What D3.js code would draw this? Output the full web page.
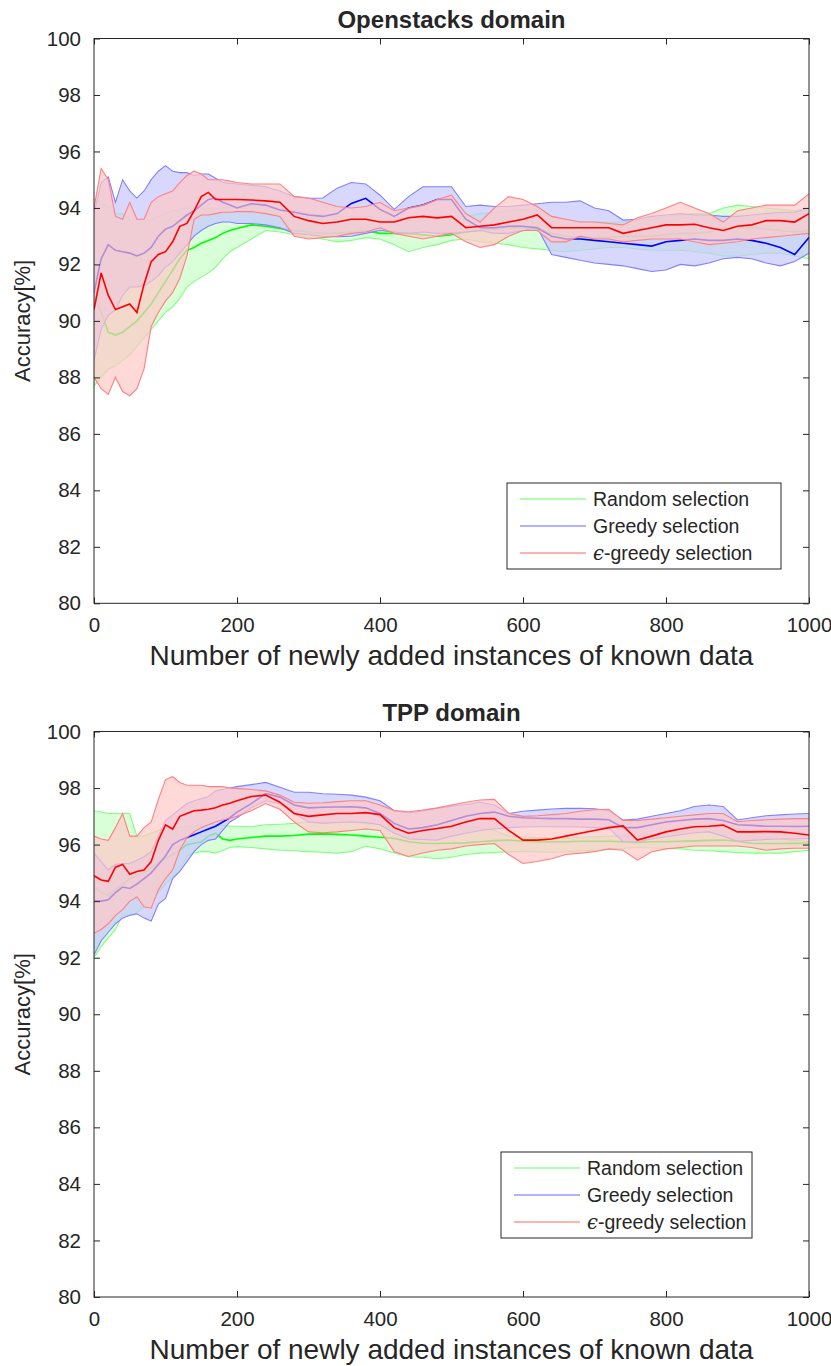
<!DOCTYPE html>
<html>
<head>
<meta charset="utf-8">
<script src="https://cdn.jsdelivr.net/npm/d3@7"></script>
<style>
  body { margin: 0; background: #fff; }
  text { font-family: "Liberation Sans", Arial, Helvetica, sans-serif; fill: #262626; }
</style>
</head>
<body>
<svg id="chart" width="831" height="1366"></svg>
<script>
// Number of newly added instances (sample positions along the x axis)
const instances = [0,10,20,30,40,50,60,70,80,90,100,110,120,130,140,150,160,170,180,190,
  200,220,240,260,280,300,320,340,360,380,400,420,440,460,480,500,520,540,560,580,
  600,620,640,660,680,700,720,740,760,780,800,820,840,860,880,900,920,940,960,980,1000];

const xTicks = [0, 200, 400, 600, 800, 1000];
const yTicks = [80, 82, 84, 86, 88, 90, 92, 94, 96, 98, 100];
const seriesNames = ["Random selection", "Greedy selection", "-greedy selection"];

// ---- Openstacks domain: accuracy [%] (mean, upper and lower bound) ----
const osRandomMean = [90.9,90.3,89.6,89.5,89.6,89.8,90.0,90.3,90.6,91.0,91.4,91.8,92.2,92.5,92.6,92.75,92.85,92.95,93.1,93.2,
  93.27,93.4,93.35,93.27,93.2,93.15,93.1,93.1,93.15,93.2,
  93.1,93.1,93.1,93.05,93.0,93.05,93.15,93.2,93.25,93.3,
  93.3,93.25,93.1,93.0,92.95,92.95,92.95,93.0,93.0,93.0,
  93.05,93.1,93.1,93.15,93.3,93.3,93.3,93.25,93.2,93.15,
  93.2];
const osRandomUpper = [94.3,94.2,94.0,93.8,93.8,93.6,93.5,93.5,93.6,93.7,93.8,93.9,93.95,94.0,94.0,94.0,94.0,94.0,94.0,94.05,
  94.05,94.1,94.05,94.0,93.9,93.8,93.75,93.7,93.7,93.7,
  93.65,93.6,93.55,93.55,93.6,93.65,93.7,93.8,93.85,93.9,
  93.95,93.9,93.7,93.6,93.5,93.5,93.5,93.5,93.55,93.6,
  93.7,93.75,93.8,93.8,94.0,94.1,94.05,94.0,93.95,93.9,
  94.0];
const osRandomLower = [87.7,88.0,88.3,88.4,88.6,88.8,89.1,89.4,89.7,90.0,90.3,90.5,90.8,91.2,91.4,91.55,91.7,91.9,92.2,92.45,
  92.6,92.9,93.2,93.15,93.05,92.95,92.9,92.8,92.85,92.95,
  92.9,92.7,92.45,92.6,92.7,92.85,92.9,92.8,92.75,92.7,
  92.6,92.55,92.5,92.45,92.5,92.55,92.6,92.6,92.55,92.5,
  92.5,92.5,92.45,92.4,92.3,92.3,92.35,92.4,92.4,92.3,
  92.2];

const osGreedyMean = [91.0,92.2,92.7,92.5,92.45,92.4,92.3,92.4,92.6,93.0,93.25,93.35,93.55,93.75,93.9,94.1,94.3,94.35,94.2,94.1,
  94.0,94.15,94.1,93.93,93.85,93.75,93.7,93.8,94.16,94.34,
  93.95,93.7,94.0,94.1,94.3,94.3,93.6,93.3,93.3,93.35,
  93.35,93.3,93.0,92.9,92.9,92.85,92.8,92.75,92.7,92.65,
  92.8,92.85,92.9,92.85,92.85,92.9,92.85,92.75,92.6,92.35,
  92.95];
const osGreedyUpper = [93.8,94.9,95.1,94.2,95.0,94.6,94.35,94.6,95.0,95.3,95.5,95.3,95.25,95.25,95.15,95.2,95.2,95.05,94.9,94.87,
  94.85,94.8,94.75,94.6,94.4,94.34,94.35,94.7,94.9,94.85,
  94.45,93.95,94.4,94.75,94.75,94.75,94.05,94.1,94.05,94.05,
  94.1,94.15,94.2,94.2,94.25,94.0,93.9,93.57,93.6,93.7,
  93.75,93.8,93.75,93.75,93.7,93.7,93.75,93.8,93.85,93.85,
  94.0];
const osGreedyLower = [88.6,89.7,90.2,90.4,90.9,91.2,91.2,91.25,91.4,91.6,91.9,92.1,92.4,92.7,93.0,93.2,93.35,93.45,93.5,93.5,
  93.45,93.45,93.4,93.3,93.1,93.05,93.0,92.98,93.0,93.1,
  93.2,93.15,93.1,93.15,93.1,93.1,93.15,93.2,93.1,93.1,
  93.2,93.3,92.35,92.25,92.15,92.05,92.0,91.95,91.85,91.75,
  91.8,92.0,91.95,92.05,92.2,92.25,92.2,92.05,91.95,92.1,
  92.4];

const osEpsMean = [90.4,91.7,90.9,90.4,90.5,90.6,90.3,91.3,92.1,92.35,92.45,92.8,93.35,93.45,93.9,94.4,94.55,94.3,94.3,94.3,
  94.3,94.28,94.25,94.2,93.7,93.55,93.45,93.5,93.6,93.6,
  93.5,93.5,93.65,93.7,93.65,93.7,93.3,93.35,93.4,93.5,
  93.6,93.75,93.3,93.3,93.3,93.3,93.3,93.1,93.2,93.3,
  93.4,93.4,93.42,93.3,93.2,93.35,93.4,93.55,93.55,93.5,
  93.8];
const osEpsUpper = [94.0,95.4,95.0,93.7,93.6,94.2,93.6,93.6,94.2,94.4,94.5,94.6,94.9,95.15,95.3,95.2,95.0,95.0,95.0,94.95,
  94.9,94.85,94.85,94.85,94.4,94.35,94.2,94.05,94.0,94.05,
  94.2,93.9,94.0,94.1,94.3,94.45,93.8,93.5,94.0,94.4,
  94.3,94.05,93.7,93.6,93.5,93.5,93.45,93.4,93.65,93.8,
  94.0,94.2,94.0,93.8,93.5,93.9,94.0,94.1,94.1,94.1,
  94.5];
const osEpsLower = [88.0,87.6,87.4,88.0,87.5,87.35,87.6,88.3,89.8,90.3,90.7,91.0,91.5,92.3,93.6,93.75,93.75,93.8,93.85,93.85,
  93.87,93.87,93.8,93.7,93.0,92.9,92.95,93.0,93.1,93.15,
  93.3,93.1,93.0,92.9,93.0,93.1,92.8,92.6,92.7,93.0,
  93.2,93.2,92.8,92.8,93.0,92.9,92.9,92.8,92.85,92.9,
  92.9,92.9,92.8,92.7,92.75,92.8,92.9,92.95,93.0,93.05,
  93.1];

// ---- TPP domain: accuracy [%] (mean, upper and lower bound) ----
const tppRandomMean = [94.5,94.3,94.2,94.4,94.6,94.8,94.9,95.0,95.2,95.35,95.5,95.65,95.8,96.0,96.05,96.1,96.3,96.4,96.2,96.15,
  96.2,96.25,96.3,96.3,96.32,96.37,96.38,96.36,96.34,96.3,
  96.26,96.22,96.1,96.05,96.04,96.05,96.06,96.1,96.14,96.16,
  96.12,96.1,96.1,96.1,96.12,96.12,96.12,96.1,96.08,96.1,
  96.1,96.12,96.13,96.15,96.16,96.12,96.05,96.04,96.04,96.05,
  96.04];
const tppRandomUpper = [97.2,97.15,97.1,97.1,97.1,97.1,96.3,96.3,96.4,96.5,96.55,96.6,96.6,96.65,96.65,96.7,96.7,96.7,96.68,96.66,
  96.65,96.63,96.7,96.72,96.75,96.8,96.8,96.8,96.81,96.75,
  96.7,96.55,96.46,96.5,96.55,96.6,96.63,96.6,96.5,96.3,
  96.28,96.25,96.22,96.22,96.25,96.28,96.3,96.3,96.3,96.35,
  96.4,96.45,96.55,96.6,96.63,96.45,96.3,96.25,96.2,96.15,
  96.1];
const tppRandomLower = [92.0,92.4,92.7,93.0,93.5,93.5,93.6,93.8,94.0,94.3,94.6,94.85,95.1,95.6,95.7,95.75,95.75,95.7,95.8,95.9,
  95.93,95.9,95.85,95.8,95.78,95.75,95.73,95.7,95.75,95.95,
  95.85,95.7,95.57,95.55,95.5,95.55,95.65,95.7,95.72,95.75,
  95.75,95.74,95.73,95.74,95.78,95.8,95.83,95.86,95.9,95.88,
  95.86,95.85,95.8,95.78,95.75,95.72,95.7,95.7,95.7,95.75,
  95.8];

const tppGreedyMean = [94.0,94.0,94.05,94.3,94.5,94.45,94.6,94.8,95.0,95.3,95.6,96.0,96.15,96.25,96.35,96.45,96.55,96.65,96.8,96.95,
  97.15,97.45,97.8,97.68,97.4,97.3,97.32,97.33,97.34,97.3,
  97.1,96.75,96.55,96.6,96.7,96.85,97.0,97.1,97.15,97.0,
  96.95,96.93,96.92,96.92,96.9,96.9,96.88,96.6,96.6,96.7,
  96.8,96.85,96.9,96.92,96.85,96.7,96.68,96.65,96.65,96.64,
  96.65];
const tppGreedyUpper = [95.7,95.4,95.1,95.3,95.33,95.33,95.45,95.57,95.75,96.3,96.85,97.05,97.25,97.45,97.55,97.62,97.7,97.9,97.95,98.0,
  98.05,98.12,98.2,98.03,97.85,97.85,97.8,97.78,97.75,97.68,
  97.55,97.2,97.12,97.2,97.28,97.36,97.42,97.5,97.4,97.1,
  97.18,97.22,97.26,97.28,97.28,97.27,97.2,96.87,96.9,97.0,
  97.1,97.2,97.35,97.4,97.35,96.87,96.95,97.02,97.05,97.08,
  97.1];
const tppGreedyLower = [92.1,92.6,92.9,93.2,93.4,93.5,93.55,93.4,93.3,93.9,94.1,94.8,95.05,95.4,95.75,96.0,96.15,96.2,96.5,96.8,
  96.95,97.3,97.55,97.45,97.1,96.8,96.75,96.78,96.8,96.78,
  96.7,96.4,96.2,96.18,96.16,96.3,96.4,96.5,96.55,96.6,
  96.62,96.63,96.63,96.62,96.62,96.6,96.58,96.1,96.1,96.2,
  96.28,96.35,96.42,96.45,96.3,96.12,96.15,96.18,96.2,96.2,
  96.22];

const tppEpsMean = [94.9,94.75,94.7,95.2,95.3,94.95,95.05,95.1,95.4,96.15,96.7,96.55,97.0,97.1,97.2,97.22,97.25,97.3,97.4,97.46,
  97.55,97.7,97.75,97.5,97.1,97.0,97.05,97.1,97.1,97.13,
  97.06,96.6,96.4,96.5,96.57,96.65,96.8,96.92,96.92,96.5,
  96.16,96.16,96.2,96.3,96.4,96.5,96.6,96.66,96.16,96.3,
  96.45,96.55,96.63,96.65,96.69,96.45,96.45,96.46,96.45,96.4,
  96.34];
const tppEpsUpper = [96.3,96.2,96.15,96.6,97.1,96.3,96.3,96.6,96.8,97.6,98.3,98.4,98.2,98.1,98.1,98.1,98.05,98.05,98.05,98.0,
  97.99,97.95,97.9,97.75,97.5,97.46,97.48,97.52,97.55,97.55,
  97.4,97.2,97.16,97.22,97.3,97.4,97.5,97.58,97.6,97.1,
  97.0,97.02,97.06,97.1,97.18,97.23,97.25,96.85,96.85,96.9,
  96.95,97.0,97.05,97.1,97.1,96.81,96.85,96.88,96.9,96.92,
  96.92];
const tppEpsLower = [92.86,93.0,93.2,93.5,93.7,94.0,94.15,93.8,93.75,94.4,94.8,95.1,95.8,96.25,96.45,96.6,96.7,96.8,96.87,96.92,
  97.0,97.2,97.45,97.25,96.8,96.45,96.42,96.45,96.5,96.55,
  96.5,95.75,95.58,95.7,95.8,95.85,95.95,96.0,96.04,95.65,
  95.33,95.4,95.5,95.65,95.7,95.75,95.85,95.8,95.45,95.75,
  95.85,95.9,95.95,95.95,95.95,95.95,95.9,95.8,95.85,95.87,
  95.87];

// Drawing styles per selection strategy: mean line, band edge and band fill
const styles = [
  { line: "#00ff00", edge: "#80ff80", fill: "#c8ffc8" },
  { line: "#0000ff", edge: "#8080ff", fill: "#c8c8ff" },
  { line: "#ff0000", edge: "#ff8080", fill: "#ffc8c8" }
];

const panels = [
  {
    title: "Openstacks domain",
    top: 38.5, bottom: 603.3,
    legend: { x: 507, y: 483, w: 274, h: 86 },
    series: [
      { mean: osRandomMean, upper: osRandomUpper, lower: osRandomLower },
      { mean: osGreedyMean, upper: osGreedyUpper, lower: osGreedyLower },
      { mean: osEpsMean, upper: osEpsUpper, lower: osEpsLower }
    ]
  },
  {
    title: "TPP domain",
    top: 731.5, bottom: 1297,
    legend: { x: 501, y: 1152, w: 251, h: 86 },
    series: [
      { mean: tppRandomMean, upper: tppRandomUpper, lower: tppRandomLower },
      { mean: tppGreedyMean, upper: tppGreedyUpper, lower: tppGreedyLower },
      { mean: tppEpsMean, upper: tppEpsUpper, lower: tppEpsLower }
    ]
  }
];

const svg = d3.select("#chart");
const left = 94, right = 809;
const axisColor = "#262626";

panels.forEach(p => {
  const x = d3.scaleLinear().domain([0, 1000]).range([left, right]);
  const y = d3.scaleLinear().domain([80, 100]).range([p.bottom, p.top]);
  const g = svg.append("g");

  const clipId = "clip-" + Math.round(p.top);
  svg.append("clipPath").attr("id", clipId)
    .append("rect").attr("x", left).attr("y", p.top)
    .attr("width", right - left).attr("height", p.bottom - p.top);

  const plot = g.append("g").attr("clip-path", `url(#${clipId})`);

  p.series.forEach((s, i) => {
    const st = styles[i];
    const pts = instances.map((v, k) => ({ x: v, m: s.mean[k], hi: s.upper[k], lo: s.lower[k] }));
    const band = d3.area().x(d => x(d.x)).y0(d => y(d.lo)).y1(d => y(d.hi));
    plot.append("path").datum(pts).attr("d", band)
      .attr("fill", st.fill).attr("fill-opacity", 0.7).attr("stroke", "none");
    ["hi", "lo"].forEach(key => {
      plot.append("path").datum(pts)
        .attr("d", d3.line().x(d => x(d.x)).y(d => y(d[key])))
        .attr("fill", "none").attr("stroke", st.edge).attr("stroke-width", 1.1);
    });
    plot.append("path").datum(pts)
      .attr("d", d3.line().x(d => x(d.x)).y(d => y(d.m)))
      .attr("fill", "none").attr("stroke", st.line).attr("stroke-width", 1.6);
  });

  // axes with inward ticks on all four sides
  const fontSize = "20.5px";
  const yl = g.append("g").attr("transform", `translate(${left},0)`)
    .call(d3.axisLeft(y).tickValues(yTicks).tickSize(-6).tickPadding(13).tickFormat(d3.format("d")));
  const yr = g.append("g").attr("transform", `translate(${right},0)`)
    .call(d3.axisRight(y).tickValues(yTicks).tickSize(-6).tickFormat(""));
  const xb = g.append("g").attr("transform", `translate(0,${p.bottom})`)
    .call(d3.axisBottom(x).tickValues(xTicks).tickSize(-6).tickPadding(14).tickFormat(d3.format("d")));
  const xt = g.append("g").attr("transform", `translate(0,${p.top})`)
    .call(d3.axisTop(x).tickValues(xTicks).tickSize(-6).tickFormat(""));
  [yl, yr, xb, xt].forEach(a => {
    a.select(".domain").remove();
    a.selectAll("line").attr("stroke", axisColor);
    a.selectAll("text").attr("font-size", fontSize).attr("fill", axisColor)
      .attr("font-family", '"Liberation Sans", Arial, sans-serif');
  });
  g.append("rect").attr("x", left).attr("y", p.top)
    .attr("width", right - left).attr("height", p.bottom - p.top)
    .attr("fill", "none").attr("stroke", axisColor).attr("stroke-width", 1);

  // title and axis labels
  g.append("text").attr("x", (left + right) / 2).attr("y", p.top - 11)
    .attr("text-anchor", "middle").attr("font-size", "24px").attr("font-weight", "bold")
    .attr("fill", "#000").text(p.title);
  g.append("text").attr("x", (left + right) / 2).attr("y", p.bottom + 62)
    .attr("text-anchor", "middle").attr("font-size", "28px")
    .text("Number of newly added instances of known data");
  g.append("text")
    .attr("transform", `translate(30,${(p.top + p.bottom) / 2}) rotate(-90)`)
    .attr("text-anchor", "middle").attr("font-size", "22px")
    .text("Accuracy[%]");

  // legend
  const L = p.legend;
  const lg = g.append("g");
  lg.append("rect").attr("x", L.x).attr("y", L.y).attr("width", L.w).attr("height", L.h)
    .attr("fill", "#fff").attr("stroke", axisColor).attr("stroke-width", 1);
  seriesNames.forEach((name, i) => {
    const ry = L.y + 16 + i * 27;
    lg.append("line").attr("x1", L.x + 13).attr("x2", L.x + 79)
      .attr("y1", ry).attr("y2", ry).attr("stroke", styles[i].line).attr("stroke-opacity", 0.6)
      .attr("stroke-width", 1.2);
    const t = lg.append("text").attr("x", L.x + 86).attr("y", ry + 7).attr("font-size", "19.5px");
    if (i === 2) {
      t.append("tspan").attr("font-style", "italic").attr("font-family", '"DejaVu Serif", serif').text("\u03F5");
    }
    t.append("tspan").text(name);
  });
});
</script>
</body>
</html>
